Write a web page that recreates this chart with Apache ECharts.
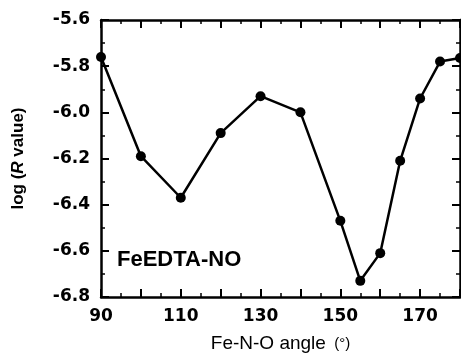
<!DOCTYPE html>
<html><head><meta charset="utf-8">
<script src="https://cdn.jsdelivr.net/npm/echarts@6/dist/echarts.min.js"></script>
<style>html,body{margin:0;padding:0;background:#fff}#c{width:461px;height:356px}</style>
</head><body><div id="c"></div>
<script>
var angles = [90, 100, 110, 120, 130, 140, 150, 155, 160, 165, 170, 175, 180];
var logR = [-5.76, -6.19, -6.37, -6.09, -5.93, -6.0, -6.47, -6.73, -6.61, -6.21, -5.94, -5.78, -5.765];
var xTickLabels = [90, 110, 130, 150, 170];
var yTickLabels = ['-5.6', '-5.8', '-6.0', '-6.2', '-6.4', '-6.6', '-6.8'];
var seriesName = 'FeEDTA-NO';

var chart = echarts.init(document.getElementById('c'), null, {renderer: 'canvas'});
var tickFont = {fontFamily: 'DejaVu Sans', fontWeight: 'bold', fontSize: 17, color: '#000'};
var axisLineStyle = {color: '#000', width: 2.5};
var common = function (pos, showLabel) {
  return {
    position: pos,
    axisLine: {show: true, onZero: false, lineStyle: axisLineStyle},
    axisTick: {show: true, inside: true, length: 8, lineStyle: {color: '#000', width: 2}},
    minorTick: {show: true, splitNumber: 2, length: 4, lineStyle: {color: '#000', width: 1.5}},
    splitLine: {show: false},
    axisLabel: {show: showLabel}
  };
};
var x1 = Object.assign(common('bottom', true), {
  type: 'value', min: 90, max: 180, interval: 10,
  name: '{n|Fe-N-O angle}{s|  (°)}', nameLocation: 'middle', nameGap: 37,
  nameTextStyle: {rich: {
    n: {fontFamily: 'Liberation Sans', fontSize: 19, color: '#000'},
    s: {fontFamily: 'Liberation Sans', fontSize: 15, color: '#000'}
  }},
  axisLabel: Object.assign({show: true, margin: 11, formatter: function (v) {
    return xTickLabels.indexOf(v) >= 0 ? String(v) : '';
  }}, tickFont)
});
var x2 = Object.assign(common('top', false), {type: 'value', min: 90, max: 180, interval: 10});
var y1 = Object.assign(common('left', true), {
  type: 'value', min: -6.8, max: -5.6, interval: 0.2,
  name: '{n|log (}{i|R}{n| value)}', nameLocation: 'middle', nameGap: 74,
  nameTextStyle: {rich: {
    n: {fontFamily: 'Liberation Sans', fontWeight: 'bold', fontSize: 17, color: '#000'},
    i: {fontFamily: 'Liberation Sans', fontWeight: 'bold', fontStyle: 'italic', fontSize: 17, color: '#000'}
  }},
  axisLabel: Object.assign({show: true, margin: 11, formatter: function (v) {
    var s = v.toFixed(1);
    return yTickLabels.indexOf(s) >= 0 ? s : '';
  }}, tickFont)
});
var y2 = Object.assign(common('right', false), {type: 'value', min: -6.8, max: -5.6, interval: 0.2});

chart.setOption({
  animation: false,
  grid: {left: 101, right: 1, top: 20, bottom: 59, containLabel: false, outerBoundsMode: 'none'},
  xAxis: [x1, x2],
  yAxis: [y1, y2],
  graphic: [{
    type: 'text', left: 117, top: 249,
    style: {text: seriesName, fontFamily: 'Liberation Sans', fontWeight: 'bold', fontSize: 22, fill: '#000'}
  }],
  series: [{
    type: 'line', name: seriesName, xAxisIndex: 0, yAxisIndex: 0,
    data: angles.map(function (a, i) { return [a, logR[i]]; }),
    symbol: 'circle', symbolSize: 10, clip: false,
    lineStyle: {color: '#000', width: 2.5},
    itemStyle: {color: '#000'}
  }]
});
</script></body></html>
